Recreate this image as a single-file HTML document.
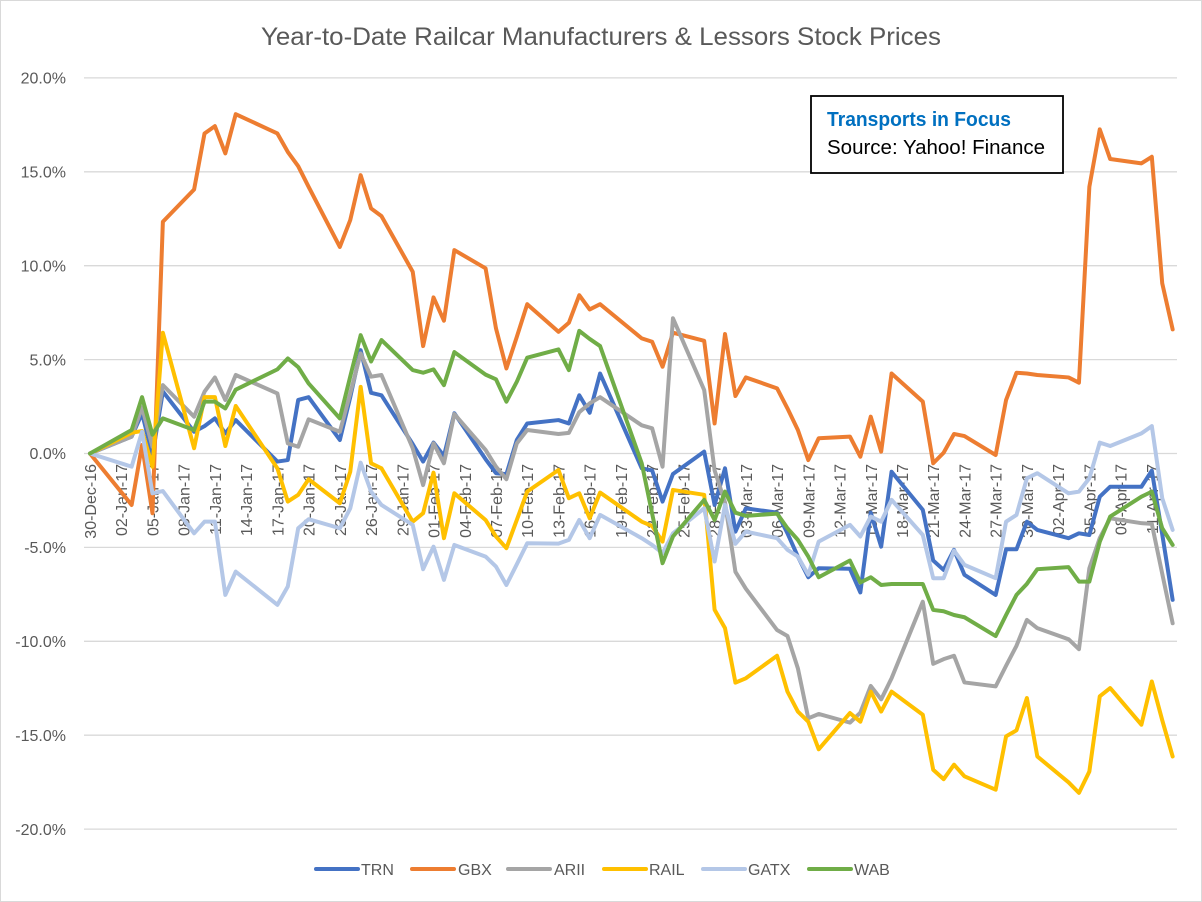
<!DOCTYPE html>
<html>
<head>
<meta charset="utf-8">
<style>
  html, body { margin: 0; padding: 0; background: #fff; }
  svg { display: block; }
  text { font-family: "Liberation Sans", Arial, sans-serif; }
</style>
</head>
<body>
<svg width="1202" height="902" viewBox="0 0 1202 902" xmlns="http://www.w3.org/2000/svg">
  <rect x="0" y="0" width="1202" height="902" fill="#ffffff"/>
  <rect x="0.5" y="0.5" width="1201" height="901" fill="none" stroke="#d9d9d9" stroke-width="1"/>

  <!-- Title -->
  <text x="601" y="45" text-anchor="middle" font-size="25" fill="#595959" textLength="680" lengthAdjust="spacingAndGlyphs">Year-to-Date Railcar Manufacturers &amp; Lessors Stock Prices</text>

  <!-- Gridlines -->
  <g stroke="#d9d9d9" stroke-width="1.3">
    <line x1="84" y1="77.9" x2="1177" y2="77.9"/>
    <line x1="84" y1="171.8" x2="1177" y2="171.8"/>
    <line x1="84" y1="265.7" x2="1177" y2="265.7"/>
    <line x1="84" y1="359.6" x2="1177" y2="359.6"/>
    <line x1="84" y1="453.5" x2="1177" y2="453.5"/>
    <line x1="84" y1="547.4" x2="1177" y2="547.4"/>
    <line x1="84" y1="641.3" x2="1177" y2="641.3"/>
    <line x1="84" y1="735.2" x2="1177" y2="735.2"/>
    <line x1="84" y1="829.1" x2="1177" y2="829.1"/>
  </g>

  <!-- Y axis labels -->
  <g font-size="16" fill="#595959" text-anchor="end">
    <text x="66" y="83.6">20.0%</text>
    <text x="66" y="177.5">15.0%</text>
    <text x="66" y="271.4">10.0%</text>
    <text x="66" y="365.3">5.0%</text>
    <text x="66" y="459.2">0.0%</text>
    <text x="66" y="553.1">-5.0%</text>
    <text x="66" y="647">-10.0%</text>
    <text x="66" y="740.9">-15.0%</text>
    <text x="66" y="834.8">-20.0%</text>
  </g>

  <!-- X axis labels (rotated) -->
  <g font-size="16" fill="#595959" text-anchor="end">
    <text transform="translate(96,464) rotate(-90)">30-Dec-16</text>
    <text transform="translate(127.2,464) rotate(-90)">02-Jan-17</text>
    <text transform="translate(158.5,464) rotate(-90)">05-Jan-17</text>
    <text transform="translate(189.7,464) rotate(-90)">08-Jan-17</text>
    <text transform="translate(220.9,464) rotate(-90)">11-Jan-17</text>
    <text transform="translate(252.2,464) rotate(-90)">14-Jan-17</text>
    <text transform="translate(283.4,464) rotate(-90)">17-Jan-17</text>
    <text transform="translate(314.6,464) rotate(-90)">20-Jan-17</text>
    <text transform="translate(345.8,464) rotate(-90)">23-Jan-17</text>
    <text transform="translate(377.1,464) rotate(-90)">26-Jan-17</text>
    <text transform="translate(408.3,464) rotate(-90)">29-Jan-17</text>
    <text transform="translate(439.5,464) rotate(-90)">01-Feb-17</text>
    <text transform="translate(470.8,464) rotate(-90)">04-Feb-17</text>
    <text transform="translate(502,464) rotate(-90)">07-Feb-17</text>
    <text transform="translate(533.2,464) rotate(-90)">10-Feb-17</text>
    <text transform="translate(564.5,464) rotate(-90)">13-Feb-17</text>
    <text transform="translate(595.7,464) rotate(-90)">16-Feb-17</text>
    <text transform="translate(626.9,464) rotate(-90)">19-Feb-17</text>
    <text transform="translate(658.1,464) rotate(-90)">22-Feb-17</text>
    <text transform="translate(689.4,464) rotate(-90)">25-Feb-17</text>
    <text transform="translate(720.6,464) rotate(-90)">28-Feb-17</text>
    <text transform="translate(751.8,464) rotate(-90)">03-Mar-17</text>
    <text transform="translate(783.1,464) rotate(-90)">06-Mar-17</text>
    <text transform="translate(814.3,464) rotate(-90)">09-Mar-17</text>
    <text transform="translate(845.5,464) rotate(-90)">12-Mar-17</text>
    <text transform="translate(876.8,464) rotate(-90)">15-Mar-17</text>
    <text transform="translate(908,464) rotate(-90)">18-Mar-17</text>
    <text transform="translate(939.2,464) rotate(-90)">21-Mar-17</text>
    <text transform="translate(970.4,464) rotate(-90)">24-Mar-17</text>
    <text transform="translate(1001.7,464) rotate(-90)">27-Mar-17</text>
    <text transform="translate(1032.9,464) rotate(-90)">30-Mar-17</text>
    <text transform="translate(1064.1,464) rotate(-90)">02-Apr-17</text>
    <text transform="translate(1095.4,464) rotate(-90)">05-Apr-17</text>
    <text transform="translate(1126.6,464) rotate(-90)">08-Apr-17</text>
    <text transform="translate(1157.8,464) rotate(-90)">11-Apr-17</text>
  </g>

  <!-- Series: x = day, y = percent -->
  <g transform="translate(90,453.5) scale(10.41,-18.78)" fill="none" stroke-linejoin="round" stroke-linecap="round">
    <!-- TRN -->
    <polyline vector-effect="non-scaling-stroke" stroke="#4472C4" stroke-width="4"
      points="0,0 4,0.9 5,2.14 6,-0.1 7,3.3 10,1.16 11,1.46 12,1.87 13,1.07 14,1.78 18,-0.43 19,-0.35 20,2.85 21,3 24,0.72 25,3 26,5.5 27,3.23 28,3.1 31,0.5 32,-0.43 33,0.58 34,-0.13 35,2.14 38,-0.3 39,-1.05 40,-1.1 41,0.72 42,1.6 45,1.78 46,1.6 47,3.1 48,2.17 49,4.26 53,-0.79 54,-0.9 55,-2.56 56,-1.09 59,0.1 60,-2.74 61,-0.79 62,-4.16 63,-2.92 66,-3.15 67,-4.25 68,-5.49 69,-6.59 70,-6.11 73,-6.14 74,-7.4 75,-3.15 76,-4.96 77,-0.97 80,-3 81,-5.7 82,-6.2 83,-5.13 84,-6.46 87,-7.53 88,-5.1 89,-5.1 90,-3.63 91,-4.07 94,-4.51 95,-4.25 96,-4.34 97,-2.3 98,-1.77 101,-1.77 102,-0.91 103,-4.3 104,-7.79"/>
    <!-- GBX -->
    <polyline vector-effect="non-scaling-stroke" stroke="#ED7D31" stroke-width="4"
      points="0,0 4,-2.74 5,0.45 6,-3.18 7,12.34 10,14.06 11,17.04 12,17.43 13,15.98 14,18.07 18,17.04 19,16.06 20,15.3 21,14.2 24,11 25,12.43 26,14.82 27,13.05 28,12.64 31,9.68 32,5.72 33,8.31 34,7.07 35,10.83 38,9.86 39,6.66 40,4.53 41,6.21 42,7.95 45,6.48 46,6.96 47,8.43 48,7.67 49,7.95 53,6.13 54,5.95 55,4.62 56,6.43 59,6 60,1.6 61,6.36 62,3.06 63,4.05 66,3.47 67,2.4 68,1.25 69,-0.35 70,0.81 73,0.9 74,-0.17 75,1.96 76,0.1 77,4.26 80,2.76 81,-0.52 82,0.04 83,1.04 84,0.93 87,-0.08 88,2.85 89,4.3 90,4.26 91,4.18 94,4.05 95,3.77 96,14.2 97,17.26 98,15.68 101,15.45 102,15.8 103,9.06 104,6.61"/>
    <!-- ARII -->
    <polyline vector-effect="non-scaling-stroke" stroke="#A5A5A5" stroke-width="4"
      points="0,0 4,0.9 5,2.46 6,0.36 7,3.64 10,1.96 11,3.29 12,4.05 13,2.85 14,4.18 18,3.2 19,0.54 20,0.36 21,1.82 24,1.16 25,3.2 26,5.33 27,4.09 28,4.18 31,0.28 32,-1.68 33,0.54 34,-0.52 35,2.1 38,0.19 39,-0.7 40,-1.37 41,0.54 42,1.25 45,1.04 46,1.1 47,2.2 48,2.67 49,3 53,1.5 54,1.34 55,-0.7 56,7.2 59,3.38 60,-0.9 61,-2.6 62,-6.3 63,-7.2 66,-9.4 67,-9.72 68,-11.44 69,-14.1 70,-13.87 73,-14.33 74,-13.8 75,-12.38 76,-13.09 77,-11.97 80,-7.89 81,-11.2 82,-10.95 83,-10.77 84,-12.19 87,-12.4 88,-11.3 89,-10.24 90,-8.86 91,-9.3 94,-9.89 95,-10.42 96,-6.11 97,-4.5 98,-3.45 101,-3.71 102,-3.75 103,-6.4 104,-9.04"/>
    <!-- RAIL -->
    <polyline vector-effect="non-scaling-stroke" stroke="#FFC000" stroke-width="4"
      points="0,0 4,1.1 5,1.2 6,-0.7 7,6.43 10,0.28 11,3 12,3 13,0.4 14,2.53 18,-0.79 19,-2.56 20,-2.2 21,-1.37 24,-2.65 25,-0.97 26,3.55 27,-0.52 28,-0.79 31,-3.63 32,-3.18 33,-1.02 34,-4.51 35,-2.12 38,-3.54 39,-4.42 40,-5.04 41,-3.54 42,-2.03 45,-0.88 46,-2.38 47,-2.12 48,-3.45 49,-2.08 53,-3.63 54,-3.86 55,-4.69 56,-1.94 59,-2.2 60,-8.32 61,-9.3 62,-12.2 63,-11.97 66,-10.77 67,-12.68 68,-13.74 69,-14.28 70,-15.75 73,-13.82 74,-14.28 75,-12.68 76,-13.74 77,-12.68 80,-13.91 81,-16.84 82,-17.34 83,-16.57 84,-17.19 87,-17.9 88,-15.06 89,-14.74 90,-13.02 91,-16.13 94,-17.51 95,-18.07 96,-16.93 97,-12.93 98,-12.49 101,-14.44 102,-12.14 103,-14.2 104,-16.13"/>
    <!-- GATX -->
    <polyline vector-effect="non-scaling-stroke" stroke="#B4C7E7" stroke-width="4"
      points="0,0 4,-0.7 5,1.16 6,-2.12 7,-2 10,-4.25 11,-3.63 12,-3.63 13,-7.53 14,-6.29 18,-8.06 19,-7.08 20,-3.98 21,-3.5 24,-3.98 25,-2.92 26,-0.49 27,-2.03 28,-2.74 31,-3.8 32,-6.16 33,-4.96 34,-6.73 35,-4.87 38,-5.49 39,-6.02 40,-7 41,-5.9 42,-4.78 45,-4.8 46,-4.6 47,-3.54 48,-4.51 49,-3.27 53,-4.51 54,-4.87 55,-5.31 56,-4.25 59,-2.92 60,-5.75 61,-2.74 62,-4.81 63,-4.16 66,-4.51 67,-5.13 68,-5.49 69,-6.46 70,-4.69 73,-3.8 74,-4.42 75,-3.36 76,-3.63 77,-2.47 80,-4.34 81,-6.64 82,-6.64 83,-5.17 84,-5.93 87,-6.64 88,-3.63 89,-3.27 90,-1.32 91,-1.05 94,-2.12 95,-2.03 96,-1.32 97,0.58 98,0.4 101,1.07 102,1.46 103,-2.38 104,-4.07"/>
    <!-- WAB -->
    <polyline vector-effect="non-scaling-stroke" stroke="#70AD47" stroke-width="4"
      points="0,0 4,1.25 5,3 6,1 7,1.87 10,1.25 11,2.76 12,2.76 13,2.4 14,3.4 18,4.48 19,5.06 20,4.6 21,3.73 24,1.87 25,4.1 26,6.3 27,4.9 28,6.04 31,4.44 32,4.3 33,4.48 34,3.64 35,5.4 38,4.2 39,3.95 40,2.76 41,3.82 42,5.1 45,5.54 46,4.44 47,6.53 48,6.1 49,5.72 53,-0.52 54,-3.2 55,-5.84 56,-4.42 59,-2.47 60,-3.54 61,-2.03 62,-3.15 63,-3.32 66,-3.2 67,-3.98 68,-4.6 69,-5.49 70,-6.59 73,-5.7 74,-6.87 75,-6.59 76,-7 77,-6.95 80,-6.95 81,-8.33 82,-8.4 83,-8.6 84,-8.72 87,-9.72 88,-8.6 89,-7.53 90,-6.94 91,-6.16 94,-6.05 95,-6.82 96,-6.82 97,-4.7 98,-3.36 101,-2.3 102,-2.03 103,-3.98 104,-4.87"/>
  </g>

  <!-- Annotation box -->
  <rect x="811" y="96" width="252" height="77" fill="#ffffff" stroke="#000000" stroke-width="1.8"/>
  <text x="827" y="126" font-size="20" font-weight="bold" fill="#0070C0" textLength="184" lengthAdjust="spacingAndGlyphs">Transports in Focus</text>
  <text x="827" y="154" font-size="20" fill="#000000" textLength="218" lengthAdjust="spacingAndGlyphs">Source: Yahoo! Finance</text>

  <!-- Legend -->
  <g stroke-width="4" stroke-linecap="round">
    <line x1="316" y1="869" x2="358" y2="869" stroke="#4472C4"/>
    <line x1="412" y1="869" x2="454" y2="869" stroke="#ED7D31"/>
    <line x1="508" y1="869" x2="550" y2="869" stroke="#A5A5A5"/>
    <line x1="604" y1="869" x2="646" y2="869" stroke="#FFC000"/>
    <line x1="703" y1="869" x2="745" y2="869" stroke="#B4C7E7"/>
    <line x1="809" y1="869" x2="851" y2="869" stroke="#70AD47"/>
  </g>
  <g font-size="16" fill="#595959">
    <text x="361" y="875">TRN</text>
    <text x="458" y="875">GBX</text>
    <text x="554" y="875">ARII</text>
    <text x="649" y="875">RAIL</text>
    <text x="748" y="875">GATX</text>
    <text x="854" y="875">WAB</text>
  </g>
</svg>
</body>
</html>
